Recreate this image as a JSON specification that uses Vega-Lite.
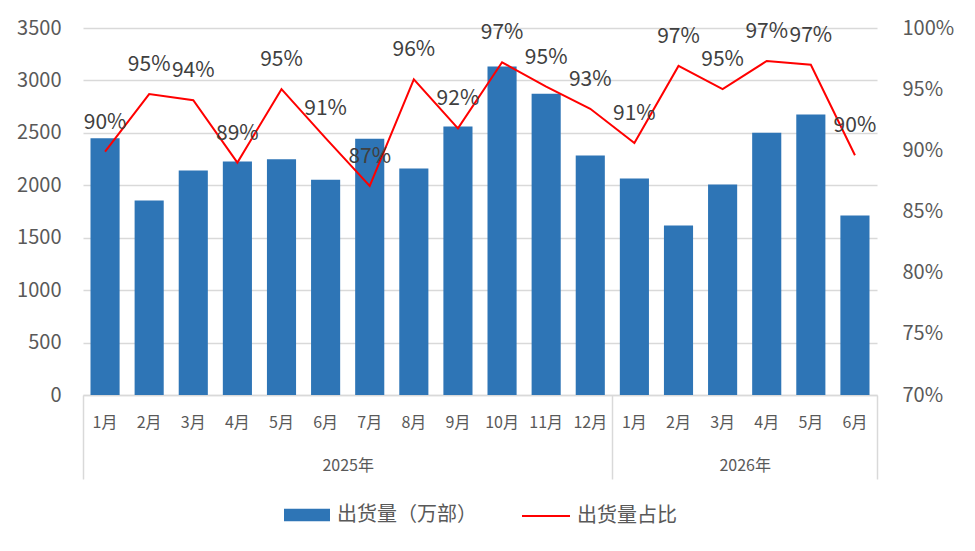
{
  "$schema": "https://vega.github.io/schema/vega-lite/v6.json",
  "autosize": {"type": "none"},
  "width": 794,
  "height": 367,
  "padding": {"left": 83, "top": 28, "right": 98, "bottom": 156},
  "background": "white",
  "config": {
    "view": {"stroke": null},
    "font": "Noto Sans CJK SC",
    "axis": {"labelFont": "Noto Sans CJK SC", "labelColor": "#595959", "title": null},
    "legend": {
      "labelFont": "Noto Sans CJK SC",
      "labelFontSize": 20,
      "labelColor": "#595959",
      "orient": "bottom",
      "offset": 11,
      "labelOffset": 6,
      "layout": {"bottom": {"anchor": "middle", "direction": "horizontal", "margin": 44}}
    }
  },
  "datasets": {
    "months": [
      {"键": "2025年1月", "出货量": 2449, "占比": 0.899},
      {"键": "2025年2月", "出货量": 1855, "占比": 0.946},
      {"键": "2025年3月", "出货量": 2141, "占比": 0.941},
      {"键": "2025年4月", "出货量": 2227, "占比": 0.890},
      {"键": "2025年5月", "出货量": 2249, "占比": 0.950},
      {"键": "2025年6月", "出货量": 2052, "占比": 0.910},
      {"键": "2025年7月", "出货量": 2443, "占比": 0.871},
      {"键": "2025年8月", "出货量": 2160, "占比": 0.958},
      {"键": "2025年9月", "出货量": 2560, "占比": 0.918},
      {"键": "2025年10月", "出货量": 3133, "占比": 0.972},
      {"键": "2025年11月", "出货量": 2872, "占比": 0.952},
      {"键": "2025年12月", "出货量": 2284, "占比": 0.934},
      {"键": "2026年1月", "出货量": 2065, "占比": 0.906},
      {"键": "2026年2月", "出货量": 1617, "占比": 0.969},
      {"键": "2026年3月", "出货量": 2007, "占比": 0.950},
      {"键": "2026年4月", "出货量": 2500, "占比": 0.973},
      {"键": "2026年5月", "出货量": 2675, "占比": 0.970},
      {"键": "2026年6月", "出货量": 1712, "占比": 0.896}
    ],
    "years": [
      {"年份": "2025年", "中": 6},
      {"年份": "2026年", "中": 15}
    ]
  },
  "layer": [
    {
      "data": {"name": "months"},
      "layer": [
        {
          "mark": {"type": "bar", "color": "#2e75b6"},
          "encoding": {
            "x": {
              "field": "键", "type": "nominal", "sort": null,
              "scale": {"paddingInner": 0.34, "paddingOuter": 0.17},
              "axis": {
                "orient": "bottom", "labelAngle": 0, "ticks": false,
                "domainColor": "#d9d9d9", "domainWidth": 1.5,
                "labelFontSize": 16, "labelBaseline": "middle", "labelPadding": 27,
                "labelExpr": "slice(datum.label, 5)"
              }
            },
            "y": {
              "field": "出货量", "type": "quantitative",
              "scale": {"domain": [0, 3500], "nice": false},
              "axis": {
                "values": [0, 500, 1000, 1500, 2000, 2500, 3000, 3500], "format": "d",
                "domain": false, "ticks": false, "labelPadding": 22, "labelFontSize": 20,
                "gridColor": "#d9d9d9", "gridWidth": 1.3
              }
            },
            "fill": {
              "datum": "出货量（万部）", "type": "nominal",
              "scale": {"range": ["#2e75b6"]},
              "legend": {"title": null, "symbolType": "M-1,-0.27H1V0.27H-1Z", "symbolSize": 2116, "symbolOpacity": 1}
            }
          }
        },
        {
          "layer": [
            {
              "mark": {"type": "line", "strokeWidth": 2},
              "encoding": {
                "x": {"field": "键", "type": "nominal", "sort": null},
                "y": {
                  "field": "占比", "type": "quantitative",
                  "scale": {"domain": [0.7, 1.0], "nice": false, "zero": false},
                  "axis": {
                    "orient": "right", "format": ".0%", "values": [0.7, 0.75, 0.8, 0.85, 0.9, 0.95, 1.0],
                    "domain": false, "ticks": false, "grid": false, "labelPadding": 25, "labelFontSize": 20
                  }
                },
                "stroke": {
                  "datum": "出货量占比", "type": "nominal",
                  "scale": {"range": ["#ff0000"]},
                  "legend": {"title": null, "symbolType": "stroke", "symbolSize": 2304, "symbolStrokeWidth": 2}
                }
              }
            },
            {
              "mark": {"type": "text", "fontSize": 21, "color": "#404040", "baseline": "middle", "dy": -29},
              "encoding": {
                "x": {"field": "键", "type": "nominal", "sort": null},
                "y": {"field": "占比", "type": "quantitative"},
                "text": {"field": "占比", "type": "quantitative", "format": ".0%"}
              }
            }
          ]
        }
      ],
      "resolve": {"scale": {"y": "independent", "fill": "independent", "stroke": "independent"}}
    },
    {
      "data": {"name": "years"},
      "mark": {"type": "rule", "opacity": 0},
      "encoding": {
        "x": {
          "field": "中", "type": "quantitative",
          "scale": {"domain": [0, 18], "nice": false, "zero": false},
          "axis": {
            "orient": "bottom", "values": [0, 6, 12, 15, 18], "domain": false, "grid": false,
            "tickSize": 84, "tickColor": "#d9d9d9", "tickWidth": 1.5,
            "tickOpacity": {"condition": {"test": "datum.value == 6 || datum.value == 15", "value": 0}, "value": 1},
            "labelExpr": "datum.value == 6 ? '2025年' : datum.value == 15 ? '2026年' : ''",
            "labelFontSize": 16, "labelBaseline": "middle", "labelPadding": -14, "labelFlush": false
          }
        }
      }
    }
  ],
  "resolve": {"scale": {"x": "independent"}}
}
